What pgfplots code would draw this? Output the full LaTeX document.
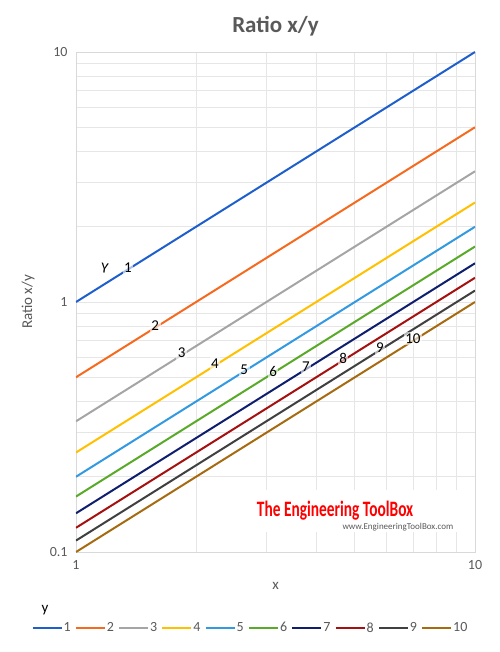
\documentclass[border=0pt]{standalone}
\usepackage{pgfplots}
\pgfplotsset{compat=1.18}
\usepackage{fontspec}
\setmainfont{Carlito}
\usetikzlibrary{calc}
\definecolor{txt}{HTML}{595959}
\definecolor{gridc}{HTML}{E6E6E6}
\definecolor{axc}{HTML}{D9D9D9}
\definecolor{c1}{HTML}{1F5FCC}
\definecolor{c2}{HTML}{F56A1E}
\definecolor{c3}{HTML}{A5A5A5}
\definecolor{c4}{HTML}{FFC000}
\definecolor{c5}{HTML}{3399E0}
\definecolor{c6}{HTML}{5AAA2A}
\definecolor{c7}{HTML}{0F1F6E}
\definecolor{c8}{HTML}{A51010}
\definecolor{c9}{HTML}{404040}
\definecolor{c10}{HTML}{A66B10}
\begin{document}
\begin{tikzpicture}
\begin{axis}[
  name=ax,
  at={(0,0)}, anchor=south west,
  scale only axis,
  width=399bp, height=500bp,
  xmode=log, ymode=log,
  xmin=1, xmax=10, ymin=0.1, ymax=10,
  xtick={1,10}, xticklabels={1,10},
  ytick={0.1,1,10}, yticklabels={0.1,1,10},
  minor xtick={2,3,4,5,6,7,8,9},
  minor ytick={0.2,0.3,0.4,0.5,0.6,0.7,0.8,0.9,2,3,4,5,6,7,8,9},
  grid=both,
  major grid style={color=gridc, line width=0.8bp},
  minor grid style={color=gridc, line width=0.8bp},
  axis line style={color=axc, line width=0.8bp},
  tick style={draw=none},
  tick label style={font=\fontsize{14bp}{16bp}\selectfont, text=txt},
  /pgf/number format/assume math mode=true,
  xticklabel style={yshift=-5bp},
  yticklabel style={xshift=-5bp},
  xlabel={x}, ylabel={Ratio x/y},
  label style={font=\fontsize{15bp}{17bp}\selectfont, text=txt},
  xlabel style={at={(axis description cs:0.5,0)}, anchor=north, yshift=-27bp},
  ylabel style={at={(axis description cs:0,0.5)}, anchor=south, yshift=38bp},
  title={\bfseries Ratio x/y},
  title style={font=\fontsize{23bp}{26bp}\selectfont, text=txt, yshift=6bp},
  legend columns=10,
  legend style={draw=none, fill=none, at={(axis description cs:0.436,-0.152)}, anchor=center,
    font=\fontsize{14bp}{16bp}\selectfont, text=txt,
    nodes={inner sep=1bp},
    /tikz/every even column/.append style={column sep=3.2bp}},
  legend image code/.code={\draw[#1, line width=2bp] (0bp,0bp) -- (29bp,0bp);},
  every axis plot/.append style={line width=2bp},
]
\addplot[c1]  coordinates {(1,1) (10,10)};
\addplot[c2]  coordinates {(1,0.5) (10,5)};
\addplot[c3]  coordinates {(1,0.333333) (10,3.333333)};
\addplot[c4]  coordinates {(1,0.25) (10,2.5)};
\addplot[c5]  coordinates {(1,0.2) (10,2)};
\addplot[c6]  coordinates {(1,0.166667) (10,1.666667)};
\addplot[c7]  coordinates {(1,0.142857) (10,1.428571)};
\addplot[c8]  coordinates {(1,0.125) (10,1.25)};
\addplot[c9]  coordinates {(1,0.111111) (10,1.111111)};
\addplot[c10] coordinates {(1,0.1) (10,1)};
\legend{1,2,3,4,5,6,7,8,9,10}
% line labels
\tikzset{lbl/.style={fill=white, fill opacity=0.6, text opacity=1, inner sep=1.5bp, font=\fontsize{15bp}{17bp}\selectfont, text=black, yshift=2bp}}
\node[lbl] at (axis cs:1.35,1.35) {1};
\node[lbl] at (axis cs:1.58,0.79) {2};
\node[lbl] at (axis cs:1.84,0.613) {3};
\node[lbl] at (axis cs:2.23,0.5575) {4};
\node[lbl] at (axis cs:2.64,0.528) {5};
\node[lbl] at (axis cs:3.12,0.52) {6};
\node[lbl] at (axis cs:3.77,0.539) {7};
\node[lbl] at (axis cs:4.67,0.584) {8};
\node[lbl] at (axis cs:5.78,0.642) {9};
\node[lbl] at (axis cs:6.99,0.699) {10};
\node[font=\fontsize{15bp}{17bp}\selectfont, rotate=-8] at (axis cs:1.18,1.37) {Y};
% watermark
\fill[white] (axis cs:2.65,0.120) rectangle (axis cs:9.44,0.177);
\node[text=red, font=\fontsize{22bp}{24bp}\selectfont\bfseries, xscale=0.7, anchor=center, inner sep=0pt] at (axis cs:4.46,0.147) {The Engineering ToolBox};
\node[text=txt, font=\fontsize{9bp}{10bp}\selectfont, anchor=center, inner sep=0pt] at (axis cs:6.41,0.126) {www.EngineeringToolBox.com};
\end{axis}
\node[font=\fontsize{15bp}{17bp}\selectfont, text=black] at ($(ax.south west)+(-31bp,-58bp)$) {y};
\pgfresetboundingbox
\path ($(ax.south west)+(-76bp,-100bp)$) rectangle ($(ax.south west)+(424bp,552bp)$);
\end{tikzpicture}
\end{document}
